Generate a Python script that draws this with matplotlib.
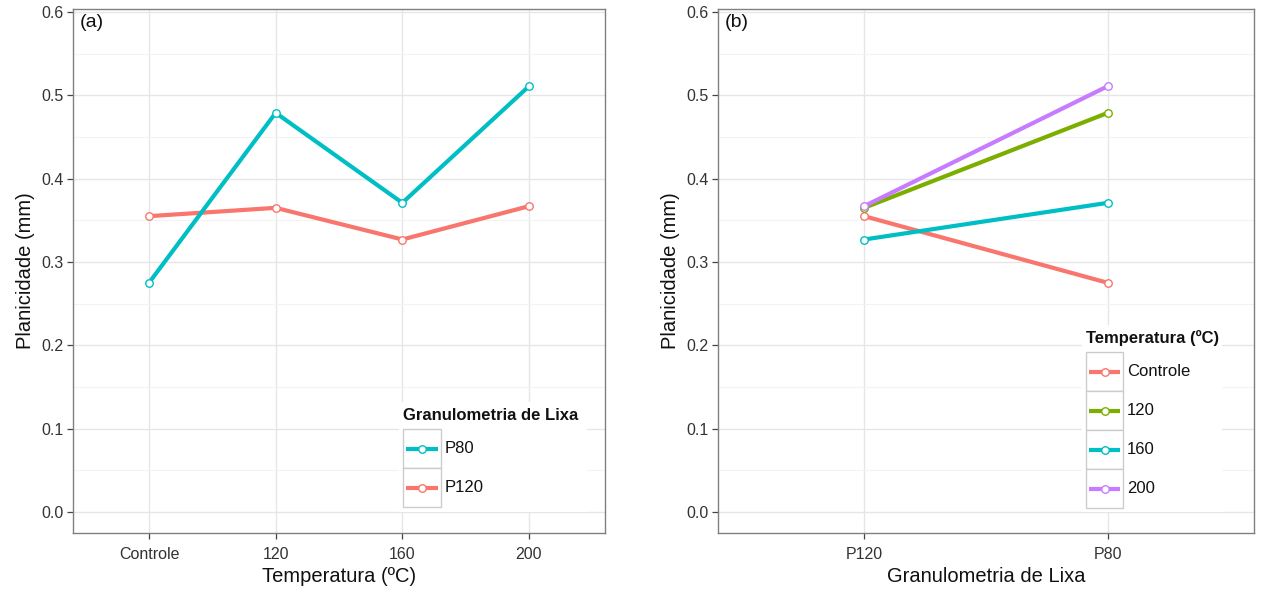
import matplotlib
matplotlib.use("Agg")
import matplotlib.pyplot as plt
from matplotlib.patches import Rectangle
from matplotlib.lines import Line2D
import numpy as np

plt.rcParams['font.family'] = ['Liberation Sans', 'DejaVu Sans']

# ---- data ----
temperaturas = ["Controle", "120", "160", "200"]
lixas_b = ["P120", "P80"]
p80 = [0.275, 0.479, 0.371, 0.511]
p120 = [0.355, 0.365, 0.327, 0.367]
serie_a_nomes = ["P80", "P120"]
temp_b = {
    "Controle": [0.355, 0.275],
    "120": [0.365, 0.479],
    "160": [0.327, 0.371],
    "200": [0.367, 0.511],
}
y_ticks = [0.0, 0.1, 0.2, 0.3, 0.4, 0.5, 0.6]
y_tick_labels = ["0.0", "0.1", "0.2", "0.3", "0.4", "0.5", "0.6"]

# ---- styles ----
COL_A = {"P80": "#00BFC4", "P120": "#F8766D"}
COL_B = {"Controle": "#F8766D", "120": "#7CAE00", "160": "#00BFC4", "200": "#C77CFF"}
LW = 3.0
MS = 5.4
TICK_COL = "#333333"
W, H = 1269, 598

fig = plt.figure(figsize=(W / 100, H / 100), dpi=100)


def fx(x):
    return x / W


def fy(y):
    return 1 - y / H


def make_ax(x0, x1, y0, y1):
    ax = fig.add_axes([fx(x0), fy(y1), fx(x1) - fx(x0), fy(y0) - fy(y1)])
    ax.set_ylim(-0.0252, 0.6036)
    ax.set_yticks(y_ticks)
    ax.set_yticklabels(y_tick_labels)
    ax.set_yticks(np.arange(0.05, 0.6, 0.1), minor=True)
    ax.grid(True, which="major", color="#E6E6E6", lw=1.0)
    ax.grid(True, which="minor", axis="y", color="#F3F3F3", lw=0.8)
    ax.set_axisbelow(True)
    for s in ax.spines.values():
        s.set_color("#808080")
        s.set_linewidth(1.0)
    ax.tick_params(axis="both", which="major", length=4, width=0.9, color="#444444",
                   labelsize=11.5, labelcolor=TICK_COL, pad=3)
    ax.tick_params(axis="x", which="major", pad=6)
    ax.tick_params(axis="both", which="minor", length=0)
    ax.set_ylabel("Planicidade (mm)", fontsize=14.5, color="#111111", labelpad=4)
    return ax


def draw_legend(title, names, colors, x0, y_top, box_w, box_h, bg_w, bg_h):
    # background
    fig.patches.append(Rectangle((fx(x0 - 4), fy(y_top + bg_h)), bg_w / W, bg_h / H,
                                 transform=fig.transFigure, facecolor="white",
                                 edgecolor="none", zorder=5))
    fig.text(fx(x0), fy(y_top + 13), title, fontsize=12, fontweight="bold",
             color="#111111", va="center", ha="left", zorder=6)
    ky = y_top + 27
    for i, (n, c) in enumerate(zip(names, colors)):
        yt = ky + i * box_h
        fig.patches.append(Rectangle((fx(x0), fy(yt + box_h)), box_w / W, box_h / H,
                                     transform=fig.transFigure, facecolor="white",
                                     edgecolor="#CCCCCC", lw=1.0, zorder=6))
        yc = fy(yt + box_h / 2)
        fig.lines.append(Line2D([fx(x0 + 3), fx(x0 + box_w - 3)], [yc, yc],
                                transform=fig.transFigure, color=c, lw=LW,
                                solid_capstyle="butt", zorder=7))
        fig.lines.append(Line2D([fx(x0 + box_w / 2)], [yc], transform=fig.transFigure,
                                marker="o", ms=MS, mfc="white", mec=c, mew=1.0,
                                linestyle="none", zorder=8))
        fig.text(fx(x0 + box_w + 4), yc, n, fontsize=12, color="#111111",
                 va="center", ha="left", zorder=8)


# ---- panel (a) ----
axa = make_ax(73, 605, 9, 533)
xa = np.arange(len(temperaturas))
for name, vals in [("P120", p120), ("P80", p80)]:
    axa.plot(xa, vals, color=COL_A[name], lw=LW, marker="o", ms=MS,
             mfc="white", mec=COL_A[name], mew=1.0, zorder=3)
axa.set_xticks(xa)
axa.set_xticklabels(temperaturas)
axa.set_xlim(-0.6, len(temperaturas) - 1 + 0.6)
axa.set_xlabel("Temperatura (ºC)", fontsize=14.5, color="#111111", labelpad=4)
axa.text(0.012, 0.99, "(a)", transform=axa.transAxes, fontsize=14,
         color="#111111", va="top", ha="left")

# ---- panel (b) ----
axb = make_ax(718, 1254, 9, 533)
xb = np.arange(len(lixas_b))
for name, vals in temp_b.items():
    axb.plot(xb, vals, color=COL_B[name], lw=LW, marker="o", ms=MS,
             mfc="white", mec=COL_B[name], mew=1.0, zorder=3)
axb.set_xticks(xb)
axb.set_xticklabels(lixas_b)
axb.set_xlim(-0.6, len(lixas_b) - 1 + 0.6)
axb.set_xlabel("Granulometria de Lixa", fontsize=14.5, color="#111111", labelpad=4)
axb.text(0.012, 0.99, "(b)", transform=axb.transAxes, fontsize=14,
         color="#111111", va="top", ha="left")

# ---- legends ----
draw_legend("Granulometria de Lixa", serie_a_nomes, [COL_A[n] for n in serie_a_nomes],
            403, 402, 38, 39, 188, 110)
draw_legend("Temperatura (ºC)", list(temp_b.keys()), [COL_B[n] for n in temp_b],
            1086, 325, 37, 39, 140, 187)

fig.savefig("out.png", dpi=100)
